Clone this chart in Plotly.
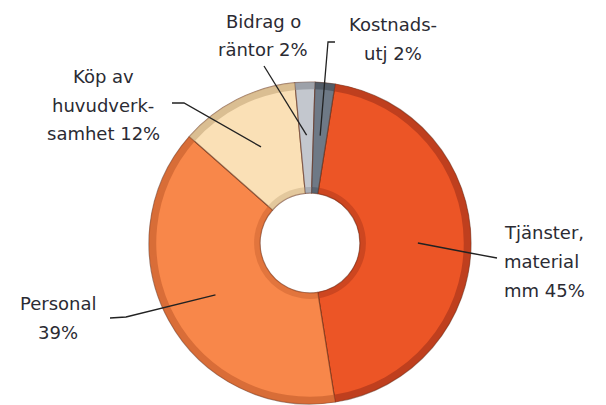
import math
import plotly.graph_objects as go

# ---- data ----
categories = ["Tjänster, material mm", "Personal", "Köp av huvudverksamhet", "Bidrag o räntor", "Kostnadsutj"]
values = [45, 39, 12, 2, 2]
label_lines = [
    ["Tjänster,", "material", "mm 45%"],
    ["Personal", "39%"],
    ["Köp av", "huvudverk-", "samhet 12%"],
    ["Bidrag o", "räntor 2%"],
    ["Kostnads-", "utj 2%"],
]
colors = ["#EC5526", "#F8874A", "#FAE0B6", "#C3C7CE", "#6E7986"]
rim_colors = ["#A8341A", "#C8602E", "#C9AC80", "#8A8E96", "#444C56"]

# ---- layout constants (reference pixels) ----
OFF = 8                      # page body margin in the browser
W, H = 606 - OFF, 405 - OFF  # figure size so that the page fits the window
CX, CY, R = 310, 243, 161
ROT = 9
HOLE = 0.31
label_pos = [
    (502, 232, "left"),
    (58, 303, "center"),
    (103, 76, "center"),
    (263, 21, "center"),
    (393, 24, "center"),
]
LINE_SP = 29
leader_start = [
    [(497, 258), (470, 253)],
    [(110, 318), (126, 317)],
    [(172, 103), (184, 103)],
    [(264, 66)],
    [(335, 42), (328, 42)],
]
ANCHOR_FRAC = 0.67


def px(x):
    return (x - OFF) / W


def py(y):
    return 1 - (y - OFF) / H


def ring_domain(r):
    return dict(x=[px(CX - r), px(CX + r)], y=[py(CY + r), py(CY - r)])


fig = go.Figure()
common = dict(labels=categories, values=values, sort=False, direction="clockwise",
              rotation=ROT, textinfo="none", showlegend=False)
fig.add_trace(go.Pie(
    **common, hole=HOLE, hoverinfo="label+percent",
    marker=dict(colors=colors, line=dict(color="rgba(90,35,15,0.55)", width=1.2)),
    domain=ring_domain(R),
))
# darker outer rim (bevel)
fig.add_trace(go.Pie(
    **common, hole=0.955, hoverinfo="skip",
    marker=dict(colors=rim_colors, line=dict(width=0)), opacity=0.65,
    domain=ring_domain(R),
))
# darker inner rim around the hole
r_in = HOLE * R
fig.add_trace(go.Pie(
    **common, hole=r_in / (r_in + 6), hoverinfo="skip",
    marker=dict(colors=rim_colors, line=dict(width=0)), opacity=0.45,
    domain=ring_domain(r_in + 6),
))

annotations = []
shapes = []
total = sum(values)
cum = 0
for i, v in enumerate(values):
    mid = ROT + (cum + v / 2) / total * 360
    cum += v
    ax = CX + ANCHOR_FRAC * R * math.sin(math.radians(mid))
    ay = CY - ANCHOR_FRAC * R * math.cos(math.radians(mid))
    pts = leader_start[i] + [(ax, ay)]
    path = "M " + " L ".join(f"{px(x):.5f},{py(y):.5f}" for x, y in pts)
    shapes.append(dict(type="path", path=path, xref="paper", yref="paper",
                       line=dict(color="#222222", width=1.3)))
    x0, y0, anc = label_pos[i]
    for j, t in enumerate(label_lines[i]):
        annotations.append(dict(
            text=t, x=px(x0), y=py(y0 + j * LINE_SP), xref="paper", yref="paper",
            xanchor=anc, yanchor="middle", showarrow=False, align=anc,
            font=dict(family="DejaVu Sans", size=18, color="#2B2B33"),
        ))

fig.update_layout(
    width=W, height=H, margin=dict(l=0, r=0, t=0, b=0),
    paper_bgcolor="white", plot_bgcolor="white",
    annotations=annotations, shapes=shapes,
)
fig.write_html("out.html")
